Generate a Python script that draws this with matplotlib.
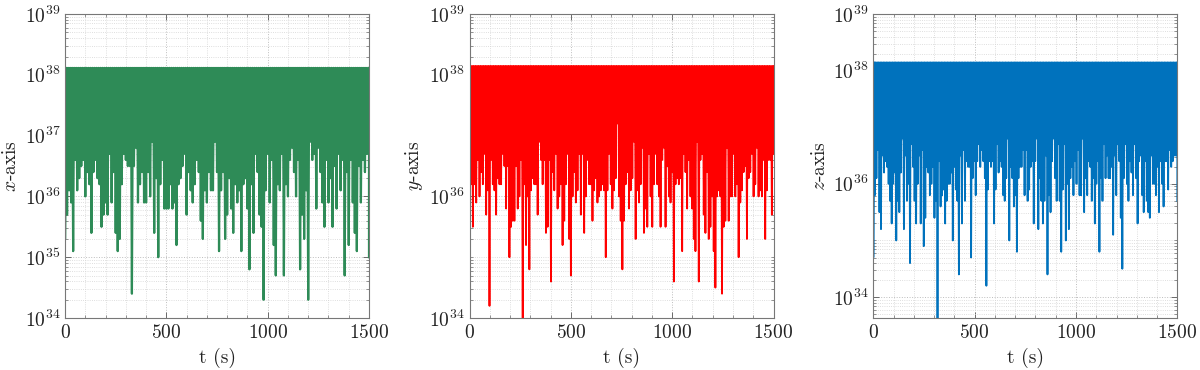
import numpy as np
import matplotlib
matplotlib.use('Agg')
import matplotlib.pyplot as plt
from matplotlib.ticker import FuncFormatter, MultipleLocator, LogLocator, NullFormatter

plt.rcParams['mathtext.fontset'] = 'cm'
plt.rcParams['axes.unicode_minus'] = False

# ---------------- data (log10 of the downward excursions) ----------------
t_end = 1500.0

x_top = 1.3e38
x_low_exp = [
    35.3, 35.7, 36.1, 35.9, 35.1, 36.6, 36.1, 36.3, 36.5,
    36.6, 36.0, 36.4, 36.2, 35.4, 36.4, 36.6, 36.3,
    36.2, 35.5, 35.7, 35.9, 35.7, 36.7, 35.9, 36.4,
    35.4, 35.1, 35.3, 36.2, 36.7, 36.6,
    36.5, 36.5, 34.4,
    36.5, 36.8, 35.9, 36.2, 36.4, 35.9, 35.9, 36.4, 36.0, 36.9, 35.4, 36.3,
    35.0, 36.2, 36.6, 35.8, 35.8, 35.8, 36.2, 35.8, 35.9, 35.2, 36.2, 36.3, 36.5,
    36.7, 35.7, 36.4, 36.1, 35.9, 36.2, 36.6, 36.4, 35.6, 35.3, 36.1, 35.9, 36.4,
    36.1, 36.1, 36.9, 36.4, 35.1, 36.1, 36.4, 35.3, 35.7, 36.3, 35.8, 35.4, 36.2,
    35.9, 36.1, 35.1, 36.2, 36.3, 35.8, 34.8, 36.2, 35.4, 36.7, 36.4,
    35.7, 35.5, 34.3,
    36.1, 36.7, 35.9, 36.6, 35.2, 34.7, 36.2, 36.1, 36.7, 34.7, 36.2, 36.0,
    36.6, 36.8, 36.4, 36.0, 36.6, 34.8, 35.7, 35.3, 36.1, 34.3,
    36.9, 36.6, 36.7, 35.8, 36.8, 36.4, 35.9, 35.5, 36.6, 35.9, 36.3, 35.5,
    36.5, 35.8, 36.7, 36.1, 36.6, 34.7, 36.4, 35.2, 36.6, 35.9, 35.4, 35.1,
    36.5, 35.9, 36.6, 36.4, 36.7, 35.0,
]

y_top = 1.4e38
y_low_exp = [
    36.7, 36.2, 35.5, 36.2, 35.9, 36.6, 36.0, 36.4, 36.2, 36.7,
    35.7, 36.1, 34.2, 36.6, 36.2, 36.1, 35.7, 36.3, 36.2, 36.2,
    36.7, 36.5, 35.8, 36.5, 35.0, 35.5, 35.6, 35.6, 36.5, 35.8,
    36.0, 36.6, 33.9, 36.2, 35.2, 36.0, 34.8, 36.1, 36.3, 36.2,
    36.2, 35.7, 36.9, 36.6, 36.2, 36.6, 35.4, 35.5, 36.6, 34.6,
    36.4, 36.1, 36.7, 35.8, 36.0, 36.2, 35.2, 35.6, 36.2, 36.7,
    35.3, 34.7, 36.0, 36.4, 35.9, 36.1, 36.7, 35.7, 36.7, 35.4,
    36.0, 36.6, 36.2, 36.2, 35.6, 36.1, 36.3, 35.9, 36.0, 36.1,
    36.2, 36.1, 35.0, 36.1, 36.7, 36.2, 35.8, 36.1, 36.3, 37.2,
    36.0, 35.6, 34.8, 35.6, 36.2, 36.4, 35.8, 36.1, 36.3, 36.9,
    35.3, 36.1, 35.9, 36.2, 36.8, 35.4, 35.8, 35.5, 36.7, 36.0,
    35.5, 36.2, 36.7, 36.2, 36.0, 35.5, 36.6, 36.8, 35.5, 36.5,
    36.0, 35.9, 36.4, 34.6, 36.2, 36.3, 36.2, 36.3, 35.1, 36.7,
    36.4, 35.8, 36.6, 36.0, 35.8, 35.3, 35.1, 36.9, 34.6, 36.6,
    36.7, 35.7, 35.4, 36.4, 35.3, 35.5, 36.0, 35.1, 34.5, 36.0,
    36.1, 36.0, 34.4, 35.5, 35.6, 36.8, 35.6, 36.0, 36.0, 36.7,
    36.0, 36.2, 35.0, 35.9, 36.1, 36.4, 36.5, 35.3, 36.3, 36.4,
    36.7, 36.0, 36.2, 36.8, 36.0, 36.1, 36.0, 36.6, 35.3, 36.1,
    36.6, 36.6, 35.7, 36.7,
]

z_top = 1.4e38
z_low_exp = [
    34.7, 35.8, 36.1, 36.6, 35.5, 35.2, 36.5, 36.2, 36.4, 36.3,
    36.0, 35.7, 35.3, 36.0, 36.2, 35.0, 35.7, 35.5, 36.2, 36.8,
    35.2, 36.5, 35.7, 36.0, 34.6, 36.7, 36.3, 35.7, 35.3, 36.0,
    36.5, 35.3, 36.6, 34.9, 35.4, 36.3, 36.2, 35.8, 36.0, 36.3,
    35.4, 35.7, 33.5, 36.4, 35.6, 35.8, 35.9, 35.3, 35.7, 36.0,
    36.0, 36.2, 35.0, 36.3, 35.9, 35.7, 34.4, 36.5, 35.3, 36.6,
    35.7, 36.4, 36.3, 36.3, 34.7, 36.1, 36.4, 35.8, 36.4, 36.7,
    36.3, 36.6, 36.4, 36.1, 34.2, 35.9, 36.4, 36.3, 36.4, 35.3,
    35.9, 36.7, 36.2, 36.4, 36.3, 35.8, 35.7, 36.1, 36.8, 35.0,
    36.3, 36.1, 35.6, 35.8, 34.8, 36.1, 36.3, 36.3, 36.6, 35.8,
    36.6, 35.7, 35.9, 36.3, 36.4, 35.3, 36.4, 36.8, 35.2, 36.1,
    35.7, 35.3, 35.7, 36.5, 34.4, 35.8, 35.5, 36.4, 36.8, 36.1,
    35.7, 36.7, 35.7, 34.8, 35.9, 36.7, 35.0, 36.0, 35.2, 36.1,
    36.3, 35.8, 36.4, 36.0, 36.6, 35.8, 35.8, 36.8, 35.5, 36.1,
    35.8, 36.4, 36.3, 35.7, 36.1, 35.3, 36.0, 36.4, 34.8, 36.1,
    35.7, 36.7, 36.1, 36.5, 36.1, 36.1, 36.3, 35.1, 36.5, 35.8,
    36.7, 36.4, 35.4, 34.5, 36.1, 36.7, 36.0, 35.7, 36.4, 36.2,
    35.8, 36.7, 36.1, 35.3, 36.4, 36.5, 35.8, 35.5, 36.4, 35.7,
    35.5, 35.4, 36.5, 36.0, 36.0, 35.8, 36.3, 35.5, 36.4, 36.0,
    35.6, 36.4, 36.4, 35.9, 36.6, 36.3, 36.4, 36.5, 36.5, 35.7,
]

series = [
    (x_top, x_low_exp, '#2E8B57', r'$x$-axis', (1e34, 1e39), [1e34, 1e35, 1e36, 1e37, 1e38, 1e39], 1.6),
    (y_top, y_low_exp, '#FF0000', r'$y$-axis', (1e34, 1e39), [1e34, 1e36, 1e38, 1e39], 1.3),
    (z_top, z_low_exp, '#0072BD', r'$z$-axis', (10 ** 33.63, 1e39), [1e34, 1e36, 1e38, 1e39], 1.3),
]

lefts = [0.0542, 0.3913, 0.7278]
bottom, width, height = 0.1405, 0.2533, 0.8216

fig = plt.figure(figsize=(12, 3.7), dpi=100)
label_font = ['cmr10', 'DejaVu Serif']

for left, (top, lows, color, ylab, ylim, yticks, lw) in zip(lefts, series):
    ax = fig.add_axes([left, bottom, width, height])
    lows = np.asarray(lows)
    n = len(lows)
    t_low = np.linspace(0, t_end, n)
    step = t_end / (n - 1)
    t = np.empty(2 * n)
    v = np.empty(2 * n)
    t[0::2] = np.minimum(t_low + step / 2, t_end)
    t[1::2] = t_low
    v[0::2] = top
    v[1::2] = 10 ** lows
    t = np.concatenate([[0.0], t])
    v = np.concatenate([[top], v])
    order = np.argsort(t, kind='stable')
    ax.plot(t[order], v[order], color=color, lw=lw)

    ax.set_yscale('log')
    ax.set_xlim(0, t_end)
    ax.set_ylim(*ylim)
    ax.set_yticks(yticks)
    ax.yaxis.set_major_formatter(FuncFormatter(lambda val, p: r'$10^{%d}$' % int(round(np.log10(val)))))
    ax.yaxis.set_minor_locator(LogLocator(base=10, subs=np.arange(1, 10), numticks=30))
    ax.yaxis.set_minor_formatter(NullFormatter())
    ax.set_xticks([0, 500, 1000, 1500])
    ax.xaxis.set_major_formatter(FuncFormatter(lambda val, p: r'$%d$' % int(round(val))))
    ax.xaxis.set_minor_locator(MultipleLocator(100))

    ax.grid(which='major', linestyle=':', color='#bdbdbd', linewidth=0.7)
    ax.grid(which='minor', linestyle=':', color='#d4d4d4', linewidth=0.6)
    ax.set_axisbelow(True)
    ax.tick_params(which='both', direction='in', top=True, right=True,
                   colors='#6a6a6a', labelcolor='#222222', labelsize=14)
    ax.tick_params(which='major', length=4, width=0.7)
    ax.tick_params(which='minor', length=2, width=0.5)
    for s in ax.spines.values():
        s.set_color('#777777')
        s.set_linewidth(0.8)

    ax.set_xlabel('t (s)', fontsize=14, family=label_font, color='#222222', labelpad=4)
    ax.set_ylabel(ylab, fontsize=14, family=label_font, color='#222222', labelpad=3)

fig.savefig('out.png', dpi=100)
